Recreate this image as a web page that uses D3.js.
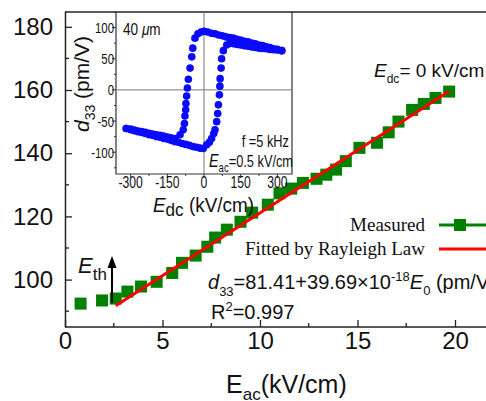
<!DOCTYPE html>
<html>
<head>
<meta charset="utf-8">
<script src="https://cdn.jsdelivr.net/npm/d3@7"></script>
<style>
  body { margin: 0; background: #fff; }
  svg { display: block; }
  text { font-family: "Liberation Sans", Arial, sans-serif; fill: #111; }
  text.serif { font-family: "Liberation Serif", "Times New Roman", serif; }
</style>
</head>
<body>
<svg id="chart"></svg>
<script>
// main chart: d33 vs Eac, Edc = 0
var eac      = [0.8, 1.9, 2.6, 3.2, 3.9, 4.7, 5.5, 6.0, 6.7, 7.3, 7.7, 8.3, 9.0, 9.6, 10.4,
                11.0, 11.6, 12.2, 12.9, 13.4, 13.9, 14.4, 15.1, 16.0, 16.6, 17.1, 17.8, 18.4, 19.0, 19.7];
var measured = [92.4, 93.4, 94.0, 96.2, 97.8, 99.3, 102.1, 105.3, 107.6, 110.4, 113.3, 115.8, 118.3, 121.2, 123.7,
                127.3, 128.8, 130.6, 131.9, 133.2, 134.8, 137.5, 141.7, 143.3, 146.6, 150.0, 153.7, 155.6, 157.5, 159.5];
var fitE = [2.6, 19.7];
var fitD = [91.7, 159.6];
var xTicks = [0, 5, 10, 15, 20];
var xMinor = [2.5, 7.5, 12.5, 17.5];
var yTicks = [100, 120, 140, 160, 180];
var yMinor = [90, 110, 130, 150, 170];

// inset: hysteresis loop, d33 vs Edc
var edcDown = [318, 300, 285, 270, 255, 240, 225, 210, 195, 180, 165, 150, 135, 120, 105, 90, 75, 60, 45, 30, 15, 0,
               -12, -25, -37, -46, -50, -57, -64, -68, -71, -74, -75, -78, -80, -85, -98, -119,
               -135, -150, -165, -180, -195, -210, -225, -240, -255, -270, -285, -300, -318];
var d33Down = [63, 65, 66, 68, 69, 71, 72, 74, 75, 77, 78, 80, 81, 83, 84, 85, 87, 88, 90, 91, 93, 94,
               93, 90, 83, 67, 53, 35, 17, 3, -10, -22, -32, -42, -54, -64, -72, -78,
               -77, -75.5, -74, -73, -72, -71, -69.5, -68, -67, -66, -64.5, -63, -62];
var edcUp = [-318, -300, -285, -270, -255, -240, -225, -210, -195, -180, -165, -150, -135, -120, -105, -90, -75, -60, -45, -30, -16, -3,
             11, 22, 31, 40, 45, 52, 56, 59, 63, 65, 66, 70, 72, 79, 93, 106,
             120, 135, 150, 165, 180, 195, 210, 225, 240, 255, 270, 285, 300, 318];
var d33Up = [-62, -64, -65.5, -67, -68.5, -70, -72, -73, -75, -76, -78, -79, -81, -83, -84, -86, -87.5, -89, -91, -92, -93.5, -94,
             -88, -84, -78, -70, -64, -51, -38, -24, -8, 6, 18, 35, 50, 63, 72, 75,
             74, 73, 72, 71, 70, 69, 68, 67, 66.5, 66, 65, 64.5, 64, 63];
var insetXTicks = [-300, -150, 0, 150, 300];
var insetXMinor = [-225, -75, 75, 225];
var insetYTicks = [-100, -50, 0, 50, 100];
var insetYMinor = [-125, -75, -25, 25, 75, 125];

var width = 486, height = 401;
var svg = d3.select("#chart").attr("width", width).attr("height", height);

var x = d3.scaleLinear().domain([0, 22]).range([65, 494]);
var y = d3.scaleLinear().domain([85, 185]).range([327, 11]);

// main frame
var axisColor = "#222";
svg.append("line").attr("x1", 65).attr("x2", width).attr("y1", 12).attr("y2", 12)
   .attr("stroke", axisColor).attr("stroke-width", 1.5);

var xAxis = svg.append("g").attr("transform", "translate(0,327)")
   .call(d3.axisBottom(x).tickValues(xTicks).tickSizeInner(-7).tickSizeOuter(0).tickPadding(5));
var yAxis = svg.append("g").attr("transform", "translate(65,0)")
   .call(d3.axisLeft(y).tickValues(yTicks).tickSizeInner(-7).tickSizeOuter(0).tickPadding(12));
[xAxis, yAxis].forEach(function(g){
  g.select(".domain").attr("stroke", axisColor).attr("stroke-width", 1.5);
  g.selectAll(".tick line").attr("stroke", axisColor).attr("stroke-width", 1.3);
  g.selectAll(".tick text").attr("font-size", 24).attr("fill", "#111")
   .attr("font-family", "Liberation Sans, Arial, sans-serif");
});
xAxis.select(".domain").attr("d", "M65,0H" + width);

svg.selectAll("line.xminor").data(xMinor).enter().append("line")
   .attr("x1", function(d){ return x(d); }).attr("x2", function(d){ return x(d); })
   .attr("y1", 327).attr("y2", 323).attr("stroke", axisColor).attr("stroke-width", 1.3);
svg.selectAll("line.yminor").data(yMinor).enter().append("line")
   .attr("y1", function(d){ return y(d); }).attr("y2", function(d){ return y(d); })
   .attr("x1", 65).attr("x2", 69).attr("stroke", axisColor).attr("stroke-width", 1.3);

// measured squares, fit line on top
var sq = 12;
svg.selectAll("rect.meas").data(eac).enter().append("rect")
   .attr("x", function(d){ return x(d) - sq / 2; })
   .attr("y", function(d, i){ return y(measured[i]) - sq / 2; })
   .attr("width", sq).attr("height", sq)
   .attr("fill", "#008000");

svg.append("line")
   .attr("x1", x(fitE[0])).attr("y1", y(fitD[0]))
   .attr("x2", x(fitE[1])).attr("y2", y(fitD[1]))
   .attr("stroke", "#ff0000").attr("stroke-width", 3);

// E_th arrow
var ax = 112;
svg.append("line").attr("x1", ax).attr("x2", ax).attr("y1", 303).attr("y2", 266)
   .attr("stroke", "#000").attr("stroke-width", 2);
svg.append("path").attr("d", "M" + (ax - 4.5) + ",268L" + ax + ",256L" + (ax + 4.5) + ",268Z").attr("fill", "#000");
var eth = svg.append("text").attr("x", 78).attr("y", 273).attr("font-size", 22);
eth.append("tspan").attr("font-style", "italic").text("E");
eth.append("tspan").attr("font-size", 17).attr("dy", 7).text("th");

// Edc = 0 label
var edcLab = svg.append("text").attr("x", 374).attr("y", 77).attr("font-size", 19);
edcLab.append("tspan").attr("font-style", "italic").text("E");
edcLab.append("tspan").attr("font-size", 12).attr("dy", 6).text("dc");
edcLab.append("tspan").attr("dy", -6).text("= 0 kV/cm");

// legend
svg.append("text").attr("class", "serif").attr("x", 425).attr("y", 231).attr("text-anchor", "end")
   .attr("font-size", 19).text("Measured");
svg.append("line").attr("x1", 439).attr("x2", width).attr("y1", 225).attr("y2", 225)
   .attr("stroke", "#008000").attr("stroke-width", 3);
svg.append("rect").attr("x", 460 - sq / 2).attr("y", 225 - sq / 2).attr("width", sq).attr("height", sq).attr("fill", "#008000");
svg.append("text").attr("class", "serif").attr("x", 425).attr("y", 255).attr("text-anchor", "end")
   .attr("font-size", 19).text("Fitted by Rayleigh Law");
svg.append("line").attr("x1", 439).attr("x2", width).attr("y1", 249).attr("y2", 249)
   .attr("stroke", "#ff0000").attr("stroke-width", 3);

// fit equation
var eq = svg.append("text").attr("x", 208).attr("y", 289).attr("font-size", 20);
eq.append("tspan").attr("font-style", "italic").text("d");
eq.append("tspan").attr("font-size", 13).attr("dy", 7).text("33");
eq.append("tspan").attr("dy", -7).text("=81.41+39.69\u00d710");
eq.append("tspan").attr("font-size", 13).attr("dy", -8).text("-18");
eq.append("tspan").attr("dy", 8).attr("font-style", "italic").text("E");
eq.append("tspan").attr("font-size", 13).attr("dy", 6).text("0");
eq.append("tspan").attr("dy", -6).text(" (pm/V)");
var r2 = svg.append("text").attr("x", 211).attr("y", 319).attr("font-size", 20);
r2.append("tspan").text("R");
r2.append("tspan").attr("font-size", 13).attr("dy", -8).text("2");
r2.append("tspan").attr("dy", 8).text("=0.997");

// x axis title
var xt = svg.append("text").attr("x", 226).attr("y", 393).attr("font-size", 25);
xt.append("tspan").text("E");
xt.append("tspan").attr("font-size", 17).attr("dy", 7).text("ac");
xt.append("tspan").attr("dy", -7).text("(kV/cm)");

// ---- inset ----
var ix = d3.scaleLinear().domain([-360, 360]).range([116, 292]);
var iy = d3.scaleLinear().domain([-135, 125]).range([174, 12]);
var inset = svg.append("g");
var frameC = "#333";
inset.append("path").attr("d", "M116,12V174H292V12").attr("fill", "none")
     .attr("stroke", frameC).attr("stroke-width", 1.2);
inset.append("line").attr("x1", 116).attr("x2", 292).attr("y1", iy(0)).attr("y2", iy(0))
     .attr("stroke", "#777").attr("stroke-width", 1);
inset.append("line").attr("y1", 12).attr("y2", 174).attr("x1", ix(0)).attr("x2", ix(0))
     .attr("stroke", "#777").attr("stroke-width", 1);

inset.selectAll("line.ixt").data(insetXTicks.concat(insetXMinor)).enter().append("line")
     .attr("x1", function(d){ return ix(d); }).attr("x2", function(d){ return ix(d); })
     .attr("y1", 174).attr("y2", function(d){ return insetXTicks.indexOf(d) >= 0 ? 178 : 176; })
     .attr("stroke", frameC).attr("stroke-width", 1);
inset.selectAll("line.iyt").data(insetYTicks.concat(insetYMinor)).enter().append("line")
     .attr("y1", function(d){ return iy(d); }).attr("y2", function(d){ return iy(d); })
     .attr("x1", 116).attr("x2", function(d){ return insetYTicks.indexOf(d) >= 0 ? 112 : 114; })
     .attr("stroke", frameC).attr("stroke-width", 1);

var narrow = 0.76;
inset.selectAll("text.ixl").data(insetXTicks).enter().append("text")
     .attr("transform", function(d){ return "translate(" + ix(d) + ",188) scale(" + narrow + ",1)"; })
     .attr("text-anchor", "middle").attr("font-size", 16)
     .text(function(d){ return d; });
inset.selectAll("text.iyl").data(insetYTicks).enter().append("text")
     .attr("transform", function(d){ return "translate(114," + (iy(d) + 5.5) + ") scale(" + narrow + ",1)"; })
     .attr("text-anchor", "end").attr("font-size", 15)
     .text(function(d){ return d; });

// loop dots
var loopE = edcDown.concat(edcUp), loopD = d33Down.concat(d33Up);
inset.selectAll("circle.loop").data(loopE).enter().append("circle")
     .attr("cx", function(d){ return ix(d); })
     .attr("cy", function(d, i){ return iy(loopD[i]); })
     .attr("r", 3.8).attr("fill", "#0a0aff");

// inset titles and notes
var iyt = inset.append("text").attr("transform", "translate(89,84) rotate(-90)")
     .attr("text-anchor", "middle").attr("font-size", 21);
iyt.append("tspan").attr("font-style", "italic").text("d");
iyt.append("tspan").attr("font-size", 14).attr("dy", 6).text("33");
iyt.append("tspan").attr("dy", -6).text(" (pm/V)");

var ixt = inset.append("text").attr("transform", "translate(153,212) scale(0.9,1)").attr("font-size", 21);
ixt.append("tspan").attr("font-style", "italic").text("E");
ixt.append("tspan").attr("font-size", 19).attr("dy", 4).text("dc");
ixt.append("tspan").attr("dy", -4).text(" (kV/cm)");

var thk = inset.append("text").attr("transform", "translate(123,35) scale(0.85,1)").attr("font-size", 16);
thk.append("tspan").text("40 ");
thk.append("tspan").attr("font-style", "italic").text("\u03bc");
thk.append("tspan").text("m");

inset.append("text").attr("transform", "translate(289,147) scale(0.8,1)")
     .attr("text-anchor", "end").attr("font-size", 16).text("f =5 kHz");
var eacN = inset.append("text").attr("transform", "translate(293,167) scale(0.8,1)")
     .attr("text-anchor", "end").attr("font-size", 16);
eacN.append("tspan").attr("font-style", "italic").attr("font-size", 18).text("E");
eacN.append("tspan").attr("font-size", 12).attr("dy", 5).text("ac");
eacN.append("tspan").attr("dy", -5).text("=0.5 kV/cm");
</script>
</body>
</html>
